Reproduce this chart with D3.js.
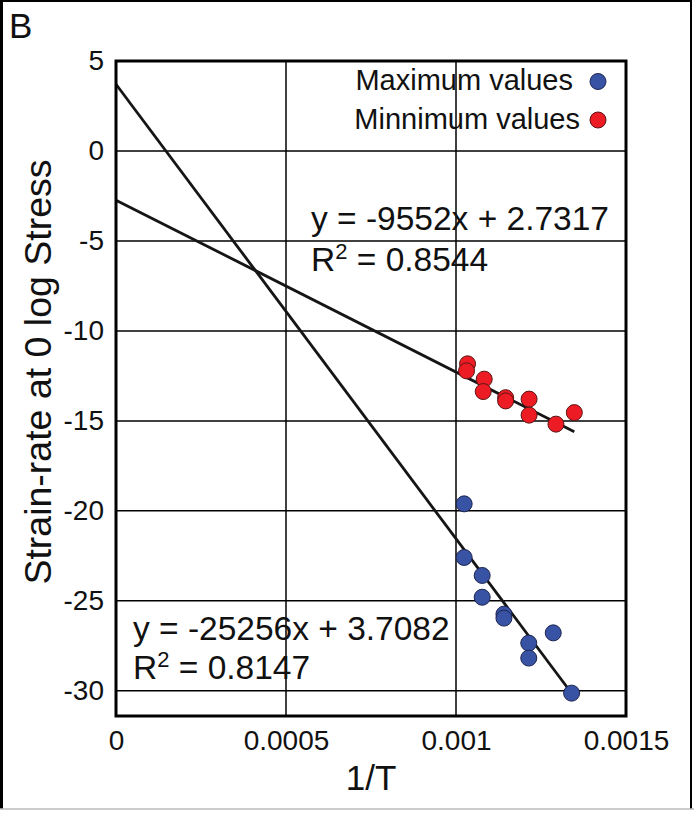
<!DOCTYPE html>
<html>
<head>
<meta charset="utf-8">
<script src="https://cdn.jsdelivr.net/npm/d3@7/dist/d3.min.js"></script>
<style>
  html, body { margin: 0; padding: 0; background: #fff; }
  svg { display: block; }
  text { font-family: "Liberation Sans", Arial, Helvetica, sans-serif; fill: #111; }
</style>
</head>
<body>
<svg id="chart" width="694" height="813"></svg>
<script>
// ---- data ----
const maxX = [0.001024, 0.001024, 0.001077, 0.001077, 0.001141, 0.001141, 0.001286, 0.001214, 0.001214, 0.001340];
const maxY = [-19.61, -22.59, -23.59, -24.80, -25.74, -25.96, -26.78, -27.35, -28.18, -30.13];
const minX = [0.001034, 0.001031, 0.001083, 0.001080, 0.001146, 0.001146, 0.001215, 0.001215, 0.001294, 0.001348];
const minY = [-11.83, -12.22, -12.68, -13.37, -13.71, -13.89, -13.79, -14.68, -15.18, -14.54];

const seriesNames = ["Maximum values", "Minnimum values"];
const seriesColors = ["#3953a4", "#ed1c24"];
const seriesStroke = ["#1c2450", "#5a1414"];

// trendlines as drawn
const fitSlopes = [-25256, -9552];
const fitIntercepts = [3.7082, -2.7317];
const fitLabels = [["y = -25256x + 3.7082", "0.8147"], ["y = -9552x + 2.7317", "0.8544"]];

const xTicks = [0, 0.0005, 0.001, 0.0015];
const xTickLabels = ["0", "0.0005", "0.001", "0.0015"];
const yTicks = [5, 0, -5, -10, -15, -20, -25, -30];
const yDomain = [-31.4, 5];
const xDomain = [0, 0.0015];

// ---- layout ----
const svg = d3.select("#chart");
const L = 116, R = 626, T = 61, B = 716;

const x = d3.scaleLinear().domain(xDomain).range([L, R]);
const y = d3.scaleLinear().domain(yDomain).range([B, T]);

// outer frame
svg.append("line").attr("x1", 1.5).attr("y1", 0).attr("x2", 1.5).attr("y2", 809).attr("stroke", "#000").attr("stroke-width", 3);
svg.append("line").attr("x1", 0).attr("y1", 1).attr("x2", 692).attr("y2", 1).attr("stroke", "#000").attr("stroke-width", 2);
svg.append("line").attr("x1", 691).attr("y1", 0).attr("x2", 691).attr("y2", 809).attr("stroke", "#000").attr("stroke-width", 2);
svg.append("line").attr("x1", 0).attr("y1", 809).attr("x2", 694).attr("y2", 809).attr("stroke", "#bbb").attr("stroke-width", 1.5);

// panel letter
svg.append("text").attr("x", 9).attr("y", 38).attr("font-size", 35).text("B");

// gridlines
const g = svg.append("g");
g.selectAll("line.hg").data(yTicks.filter(d => d !== 5)).join("line")
  .attr("class", "hg")
  .attr("x1", L).attr("x2", R)
  .attr("y1", d => y(d)).attr("y2", d => y(d))
  .attr("stroke", "#000").attr("stroke-width", 1.5);
g.selectAll("line.vg").data(xTicks.filter(d => d > 0 && d < 0.0015)).join("line")
  .attr("class", "vg")
  .attr("x1", d => x(d)).attr("x2", d => x(d))
  .attr("y1", T).attr("y2", B)
  .attr("stroke", "#000").attr("stroke-width", 1.5);

// axes (labels only)
const xAxis = d3.axisBottom(x).tickValues(xTicks).tickFormat((d, i) => xTickLabels[i]).tickSize(0).tickPadding(14);
const xg = svg.append("g").attr("transform", `translate(0,${B})`).call(xAxis);
xg.select(".domain").remove();
xg.selectAll("text").attr("font-size", 28).attr("font-family", '"Liberation Sans", Arial, sans-serif').attr("fill", "#111");

const yAxis = d3.axisLeft(y).tickValues(yTicks).tickFormat(d3.format("d")).tickSize(0).tickPadding(12);
const yg = svg.append("g").attr("transform", `translate(${L},0)`).call(yAxis);
yg.select(".domain").remove();
yg.selectAll("text").attr("font-size", 28).attr("font-family", '"Liberation Sans", Arial, sans-serif').attr("fill", "#111")
  .text(d => d < 0 ? "-" + Math.abs(d) : String(d));

// axis titles
svg.append("text").attr("x", (L + R) / 2).attr("y", 790).attr("text-anchor", "middle").attr("font-size", 35).text("1/T");
svg.append("text").attr("transform", `translate(51,372) rotate(-90)`).attr("text-anchor", "middle").attr("font-size", 37.5)
  .text("Strain-rate at 0 log Stress");

// trendlines
const seriesX = [maxX, minX];
const seriesY = [maxY, minY];
const line = d3.line().x(d => x(d[0])).y(d => y(d[1]));
fitSlopes.forEach((s, i) => {
  const x1 = d3.max(seriesX[i]);
  const pts = [[0, fitIntercepts[i]], [x1, fitIntercepts[i] + s * x1]];
  svg.append("path").attr("d", line(pts)).attr("fill", "none").attr("stroke", "#151515").attr("stroke-width", 2.8);
});

// points
[0, 1].forEach(i => {
  const data = seriesX[i].map((v, k) => [v, seriesY[i][k]]);
  svg.append("g").selectAll("circle").data(data).join("circle")
    .attr("cx", d => x(d[0])).attr("cy", d => y(d[1])).attr("r", 8)
    .attr("fill", seriesColors[i]).attr("stroke", seriesStroke[i]).attr("stroke-width", 1);
});

// plot frame
svg.append("rect").attr("x", L).attr("y", T).attr("width", R - L).attr("height", B - T)
  .attr("fill", "none").attr("stroke", "#000").attr("stroke-width", 3);

// legend
const legY = [90, 129];
const legCY = [81.5, 120];
const legTextX = [573, 580];
seriesNames.forEach((n, i) => {
  svg.append("text").attr("x", legTextX[i]).attr("y", legY[i]).attr("text-anchor", "end").attr("font-size", 29).text(n);
  svg.append("circle").attr("cx", 598).attr("cy", legCY[i]).attr("r", 8)
    .attr("fill", seriesColors[i]).attr("stroke", seriesStroke[i]).attr("stroke-width", 1);
});

// equations
const eqPos = [[133, 640, 679], [311, 230, 271]];
fitLabels.forEach((lab, i) => {
  const [ex, ey1, ey2] = eqPos[i];
  svg.append("text").attr("x", ex).attr("y", ey1).attr("font-size", 33.5).text(lab[0]);
  const t = svg.append("text").attr("x", ex).attr("y", ey2).attr("font-size", 33.5);
  t.append("tspan").text("R");
  t.append("tspan").attr("dy", -12).attr("font-size", 22).text("2");
  t.append("tspan").attr("dy", 12).text(" = " + lab[1]);
});
</script>
</body>
</html>
